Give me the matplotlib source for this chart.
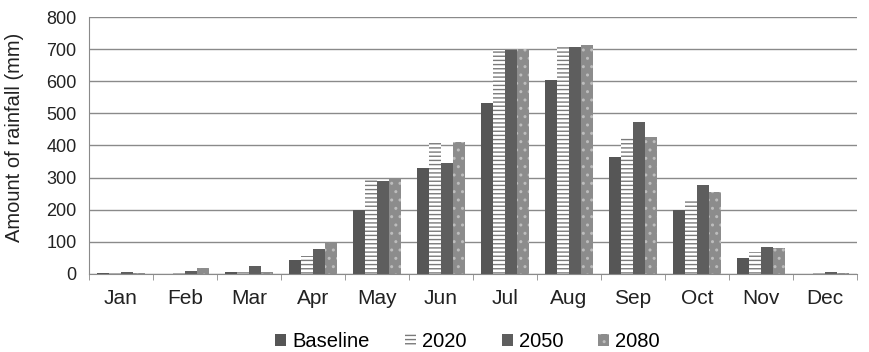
import numpy as np
import matplotlib
matplotlib.use("Agg")
import matplotlib.pyplot as plt

plt.rcParams['font.family'] = ['Liberation Sans', 'DejaVu Sans']
plt.rcParams['hatch.linewidth'] = 1.0

months = ["Jan", "Feb", "Mar", "Apr", "May", "Jun", "Jul", "Aug", "Sep", "Oct", "Nov", "Dec"]
baseline = [2, 1, 5, 45, 200, 330, 531, 603, 365, 200, 50, 1]
y2020 = [3, 3, 10, 55, 292, 411, 697, 707, 427, 230, 69, 3]
y2050 = [5, 10, 25, 78, 290, 345, 697, 707, 473, 277, 85, 6]
y2080 = [3, 18, 5, 97, 295, 411, 700, 712, 427, 256, 80, 3]

series = [
    ("Baseline", baseline, dict(color="#565656", edgecolor="#565656")),
    ("2020", y2020, dict(color="white", edgecolor="#7a7a7a", hatch="----")),
    ("2050", y2050, dict(color="#5e5e5e", edgecolor="#5e5e5e")),
    ("2080", y2080, dict(color="#8c8c8c", edgecolor="#bdbdbd", hatch="..")),
]

fig = plt.figure(figsize=(8.69, 3.52), dpi=100)
ax = fig.add_axes([0.1024, 0.2216, 0.8836, 0.7301])

x = np.arange(len(months))
width = 0.19
for i, (name, vals, style) in enumerate(series):
    ax.bar(x + (i - 1.5) * width, vals, width, label=name, linewidth=0, **style)

ax.set_xlim(-0.5, len(months) - 0.5)
ax.set_ylim(0, 800)
ax.set_yticks(range(0, 801, 100))
ax.yaxis.grid(True, color="#8a8a8a", linewidth=1.0)
ax.set_axisbelow(True)
ax.set_xticks(x)
ax.set_xticklabels(months)
ax.set_xticks(np.arange(-0.5, len(months)), minor=True)
ax.tick_params(axis="x", which="major", length=0, labelsize=15, pad=10.5, colors="#222222")
ax.tick_params(axis="x", which="minor", length=4, color="#8a8a8a")
ax.tick_params(axis="y", length=0, labelsize=13, pad=9, colors="#222222")
for side in ("top", "right"):
    ax.spines[side].set_visible(False)
for side in ("left", "bottom"):
    ax.spines[side].set_color("#8a8a8a")
ax.set_ylabel("Amount of rainfall (mm)", fontsize=14.5, color="#222222")
ax.yaxis.set_label_coords(-0.085, 0.53)

handles, labels = ax.get_legend_handles_labels()
fig.legend(handles, labels, loc="center", bbox_to_anchor=(0.538, 0.03), ncol=4,
           frameon=False, fontsize=14.5, handlelength=0.55, handleheight=0.55,
           handletextpad=0.3, columnspacing=1.75)

fig.savefig("out.png", dpi=100)
